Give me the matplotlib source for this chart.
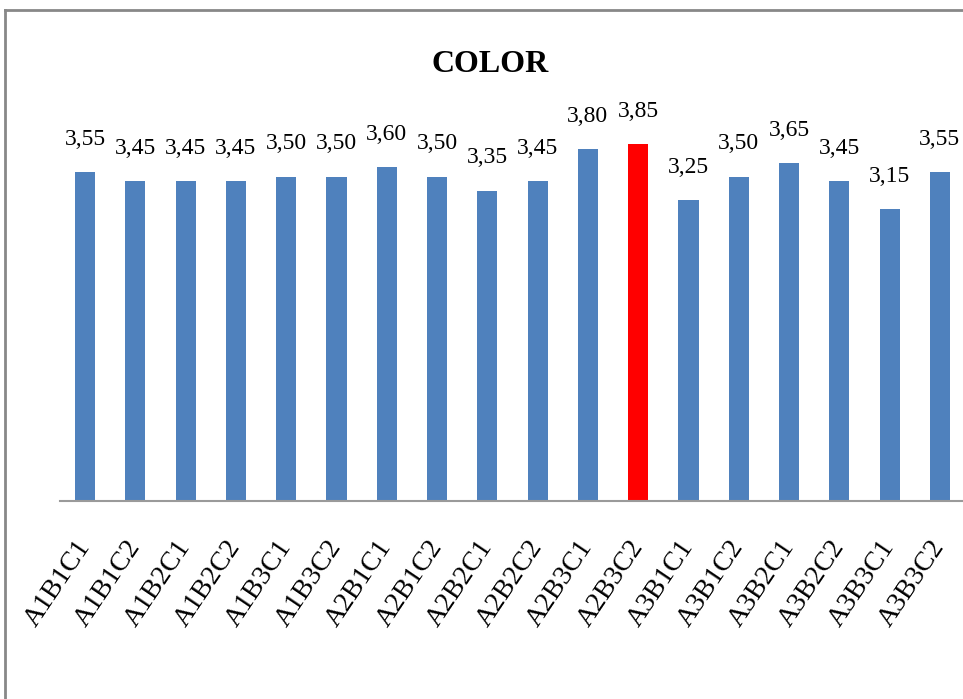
import matplotlib
matplotlib.use("Agg")
import matplotlib.pyplot as plt
from matplotlib.lines import Line2D

categories = ["A1B1C1", "A1B1C2", "A1B2C1", "A1B2C2", "A1B3C1", "A1B3C2",
              "A2B1C1", "A2B1C2", "A2B2C1", "A2B2C2", "A2B3C1", "A2B3C2",
              "A3B1C1", "A3B1C2", "A3B2C1", "A3B2C2", "A3B3C1", "A3B3C2"]
values = [3.55, 3.45, 3.45, 3.45, 3.50, 3.50, 3.60, 3.50, 3.35, 3.45,
          3.80, 3.85, 3.25, 3.50, 3.65, 3.45, 3.15, 3.55]
highlight = "A2B3C2"

plt.rcParams['font.family'] = ['Liberation Serif', 'DejaVu Serif']

fig = plt.figure(figsize=(9.63, 6.99), dpi=100)
ax = fig.add_axes([60/963, 1-501/699, 905/963, (501-84)/699])

colors = ["#FF0000" if c == highlight else "#4F81BD" for c in categories]
x = list(range(len(categories)))
bars = ax.bar(x, values, width=0.4, color=colors, zorder=2)
for xi, v in zip(x, values):
    ax.annotate(f"{v:.2f}".replace(".", ","), (xi, v), xytext=(0, 16),
                textcoords="offset points", ha="center", va="bottom", fontsize=17)

ax.set_xlim(-0.5, len(categories) - 0.5)
ax.set_ylim(0, 4.5)
ax.set_yticks([])
ax.set_xticks(x)
ax.set_xticklabels(categories, rotation=56, ha="right", va="center",
                   rotation_mode="anchor", fontsize=20)
ax.tick_params(axis="x", length=0, pad=30)
for s in ["top", "right", "left"]:
    ax.spines[s].set_visible(False)
ax.spines["bottom"].set_color("#9A9A9A")
ax.spines["bottom"].set_linewidth(1.5)

fig.text(490/963, 1-64/699, "COLOR", ha="center", va="center",
         fontsize=23, fontweight="bold")

# outer chart border
fig.add_artist(Line2D([5/963, 1.01], [1-10/699, 1-10/699], color="#888888",
                      lw=2, transform=fig.transFigure))
fig.add_artist(Line2D([5/963, 5/963], [-0.01, 1-10/699], color="#888888",
                      lw=2, transform=fig.transFigure))

fig.savefig("out.png", dpi=100)
